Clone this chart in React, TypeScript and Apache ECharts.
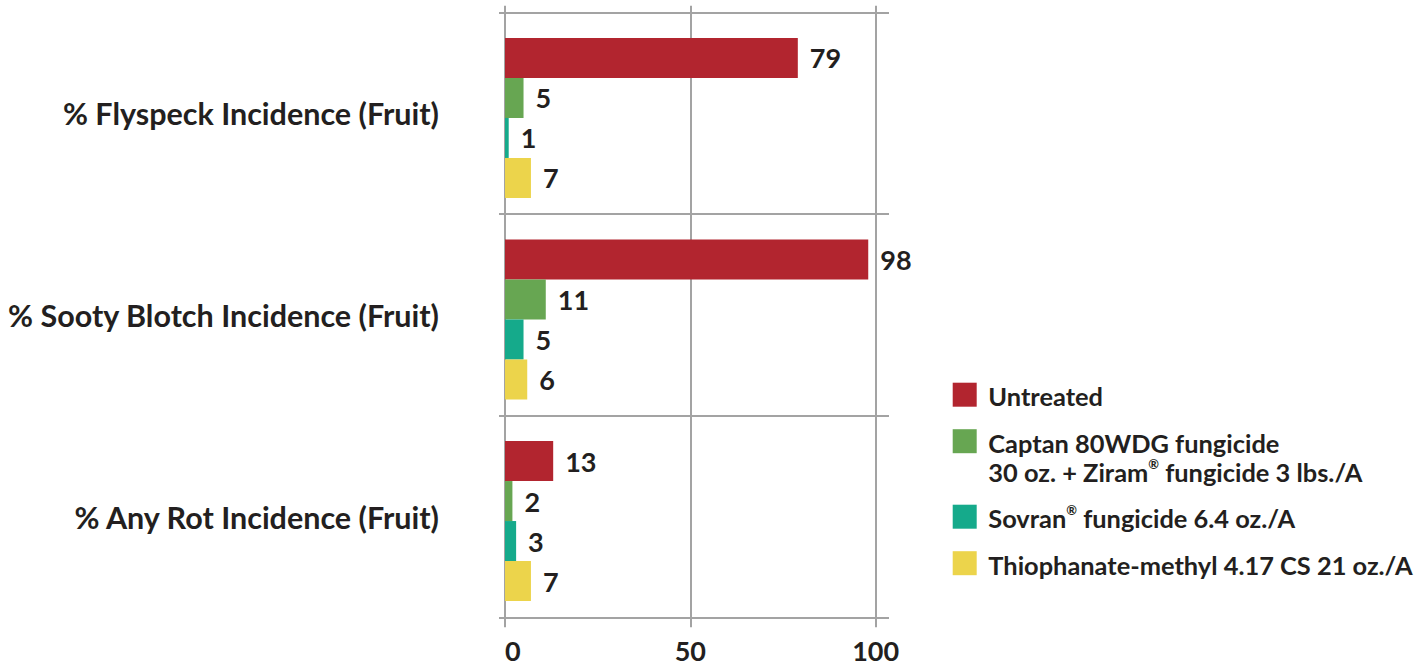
import React, { useEffect, useRef } from "react";
import * as echarts from "echarts";

const categories = [
  "% Flyspeck Incidence (Fruit)",
  "% Sooty Blotch Incidence (Fruit)",
  "% Any Rot Incidence (Fruit)",
];
const seriesNames = [
  "Untreated",
  "Captan 80WDG fungicide\n30 oz. + Ziram® fungicide 3 lbs./A",
  "Sovran® fungicide 6.4 oz./A",
  "Thiophanate-methyl 4.17 CS 21 oz./A",
];
const untreated = [79, 98, 13];
const captanZiram = [5, 11, 2];
const sovran = [1, 5, 3];
const thiophanate = [7, 6, 7];
const seriesValues = [untreated, captanZiram, sovran, thiophanate];
const xTicks = [0, 50, 100];
const xMin = 0;
const xMax = 103.6;
const colors = ["#b2252f", "#67a652", "#15aa8b", "#ecd44b"];

const FONT = "Lato";
const TEXT = "#231f20";
const LINE = "#a3a3a3";

export default function App() {
  const ref = useRef<HTMLDivElement>(null);
  useEffect(() => {
    if (!ref.current) return;
    const chart = echarts.init(ref.current, null, { renderer: "svg" });
    const lineStyle = { color: LINE, width: 2 };

    const graphics: any[] = [];
    let y = 382.7;
    seriesNames.forEach((name, i) => {
      const lines = name.split("\n").length;
      graphics.push({
        type: "rect",
        shape: { x: 952.7, y, width: 24, height: 24 },
        style: { fill: colors[i] },
      });
      graphics.push({
        type: "text",
        x: 988.3,
        y: y - 1,
        style: {
          text: name.replace(/®/g, "{sup|®}"),
          fontSize: 25.4,
          fontWeight: "bold",
          fontFamily: FONT,
          fill: TEXT,
          lineHeight: 29,
          verticalAlign: "top",
          rich: {
            sup: {
              fontSize: 13,
              fontWeight: "bold",
              fontFamily: FONT,
              fill: TEXT,
              verticalAlign: "top",
            },
          },
        },
      });
      y += 46.5 + (lines - 1) * 29;
    });

    chart.setOption({
      animation: false,
      backgroundColor: "#ffffff",
      legend: { show: false },
      grid: [
        { left: 505, right: 538, top: 12.7, bottom: 51.7 },
        { left: 505, right: 538, top: 17.2, bottom: 47.2 },
      ],
      xAxis: [
        {
          gridIndex: 0,
          type: "value",
          min: xMin,
          max: xMax,
          interval: 50,
          position: "bottom",
          axisLine: { show: false },
          axisTick: { show: true, length: 10, lineStyle, customValues: xTicks },
          splitLine: { show: true, lineStyle },
          axisLabel: {
            customValues: xTicks,
            alignMinLabel: "left",
            margin: 20,
            fontSize: 27,
            fontWeight: "bold",
            fontFamily: FONT,
            color: TEXT,
          },
        },
        {
          gridIndex: 0,
          type: "value",
          min: xMin,
          max: xMax,
          interval: 50,
          position: "top",
          axisLine: { show: false },
          axisTick: { show: true, length: 7, lineStyle, customValues: xTicks },
          axisLabel: { show: false },
          splitLine: { show: false },
        },
        {
          gridIndex: 1,
          type: "value",
          min: xMin,
          max: xMax,
          show: false,
        },
      ],
      yAxis: [
        {
          gridIndex: 0,
          type: "category",
          data: categories,
          inverse: true,
          axisLine: { show: true, lineStyle },
          axisTick: { show: true, length: 6, lineStyle },
          splitLine: { show: true, lineStyle },
          axisLabel: {
            margin: 66,
            fontSize: 30.5,
            fontWeight: "bold",
            fontFamily: FONT,
            color: TEXT,
          },
        },
        {
          gridIndex: 1,
          type: "category",
          data: categories,
          inverse: true,
          show: false,
        },
      ],
      series: seriesNames.map((name, i) => ({
        name,
        type: "bar",
        xAxisIndex: 2,
        yAxisIndex: 1,
        data: seriesValues[i],
        barWidth: 40,
        barGap: "0%",
        itemStyle: { color: colors[i] },
        label: {
          show: true,
          position: "right",
          distance: 12,
          fontSize: 27,
          fontWeight: "bold",
          fontFamily: FONT,
          color: TEXT,
        },
      })),
      graphic: graphics,
    });
    return () => chart.dispose();
  }, []);
  return (
    <div
      ref={ref}
      style={{ position: "absolute", left: 0, top: 0, width: 1427, height: 669 }}
    />
  );
}
